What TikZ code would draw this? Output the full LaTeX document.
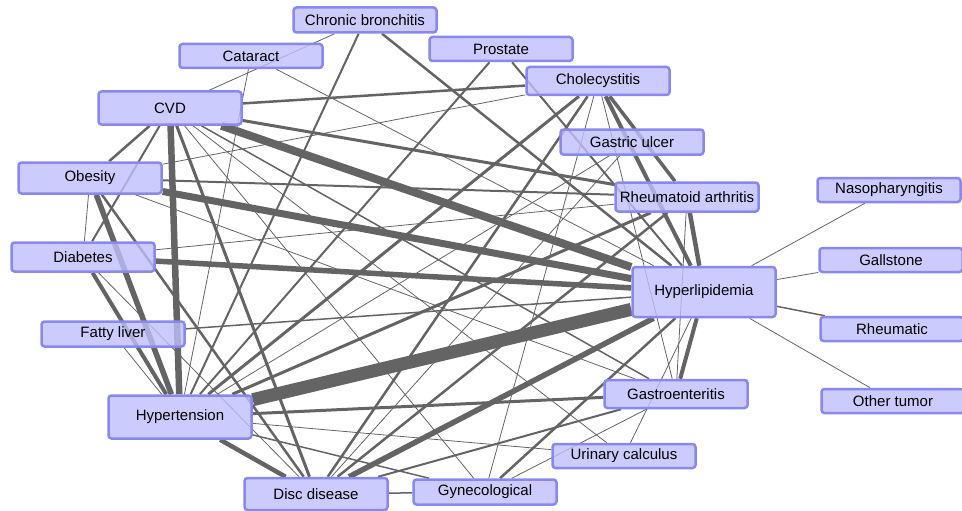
\documentclass[tikz,border=0pt]{standalone}
\usepackage{fontspec}
\setmainfont{Liberation Sans}
\usetikzlibrary{backgrounds}
\definecolor{nodefill}{RGB}{190,190,252}
\definecolor{nodeline}{RGB}{136,136,240}
\definecolor{edgecol}{RGB}{100,100,100}
\begin{document}
\begin{tikzpicture}[x=1pt,y=-1pt,
  dnode/.style={draw=nodeline, line width=2.5pt, fill=nodefill, fill opacity=0.8, text opacity=1, draw opacity=1,
    rounded corners=3pt, minimum width=143pt, inner sep=0pt, font=\fontsize{15}{18}\selectfont},
  lk/.style={draw=edgecol, line width=#1},
  lk/.default=0.8pt
]
\useasboundingbox (0,0) rectangle (962,511);
\node[dnode, minimum height=25pt] (chr) at (365,20) {Chronic bronchitis};
\node[dnode, minimum height=24pt] (cat) at (251,56) {Cataract};
\node[dnode, minimum height=24pt] (pro) at (501,49) {Prostate};
\node[dnode, minimum height=28pt] (cho) at (598,81) {Cholecystitis};
\node[dnode, minimum height=33pt] (cvd) at (170,108) {CVD};
\node[dnode, minimum height=25pt] (gul) at (632,142) {Gastric ulcer};
\node[dnode, minimum height=31pt] (obe) at (90,178) {Obesity};
\node[dnode, minimum height=29pt] (rha) at (687,197) {Rheumatoid arthritis};
\node[dnode, minimum height=24pt] (nas) at (889,190) {Nasopharyngitis};
\node[dnode, minimum height=29pt] (dia) at (83,257) {Diabetes};
\node[dnode, minimum height=24pt] (gal) at (891,260) {Gallstone};
\node[dnode, minimum height=50pt] (hyl) at (704,292) {Hyperlipidemia};
\node[dnode, minimum height=24pt] (rhe) at (892,329) {Rheumatic};
\node[dnode, minimum height=25pt] (fat) at (113,334) {Fatty liver};
\node[dnode, minimum height=24pt] (oth) at (893,401) {Other tumor};
\node[dnode, minimum height=28pt] (gas) at (676,394) {Gastroenteritis};
\node[dnode, minimum height=43pt] (hyt) at (180,417) {Hypertension};
\node[dnode, minimum height=24pt] (uri) at (624,456) {Urinary calculus};
\node[dnode, minimum height=32pt] (dis) at (316,494) {Disc disease};
\node[dnode, minimum height=25pt] (gyn) at (485,492) {Gynecological};
\begin{scope}[on background layer]
\draw[lk=13pt] (hyt) -- (hyl);
\draw[lk=8pt] (cvd) -- (hyl);
\draw[lk=7pt] (obe) -- (hyl);
\draw[lk=6.5pt] (cvd) -- (hyt);
\draw[lk=5.5pt] (dia) -- (hyl);
\draw[lk=5.5pt] (obe) -- (hyt);
\draw[lk=5.5pt] (dis) -- (hyl);
\draw[lk=4.5pt] (hyt) -- (dis);
\draw[lk=4pt] (cho) -- (hyl);
\draw[lk=4.5pt] (rha) -- (hyl);
\draw[lk=4pt] (gas) -- (hyl);
\draw[lk=4pt] (dia) -- (hyt);
\draw[lk=3.5pt] (cho) -- (rha);
\draw[lk=3pt] (cvd) -- (dis);
\draw[lk=3pt] (cvd) -- (rha);
\draw[lk=3pt] (hyt) -- (gas);
\draw[lk=3pt] (hyt) -- (cho);
\draw[lk=3pt] (hyt) -- (rha);
\draw[lk=2.5pt] (dis) -- (cho);
\draw[lk=2.5pt] (dis) -- (rha);
\draw[lk=2.5pt] (cvd) -- (cho);
\draw[lk=2.5pt] (obe) -- (dis);
\draw[lk=2.5pt] (chr) -- (hyl);
\draw[lk=2pt] (chr) -- (hyt);
\draw[lk=2pt] (pro) -- (hyt);
\draw[lk=2pt] (pro) -- (hyl);
\draw[lk=2pt] (obe) -- (rha);
\draw[lk=2.5pt] (cvd) -- (obe);
\draw[lk=2pt] (cvd) -- (dia);
\draw[lk=2pt] (dis) -- (gas);
\draw[lk=2.5pt] (gyn) -- (hyl);
\draw[lk=1.5pt] (hyt) -- (gyn);
\draw[lk=1.5pt] (dis) -- (gyn);
\draw[lk=1.5pt] (fat) -- (hyl);
\draw[lk=1.5pt] (rhe) -- (hyl);
\draw[lk=1.5pt] (cvd) -- (gas);
\draw[lk] (chr) -- (cvd);
\draw[lk] (cat) -- (hyt);
\draw[lk] (cat) -- (hyl);
\draw[lk] (obe) -- (dia);
\draw[lk] (obe) -- (cho);
\draw[lk] (obe) -- (gas);
\draw[lk] (dia) -- (rha);
\draw[lk] (fat) -- (hyt);
\draw[lk] (cho) -- (gas);
\draw[lk] (rha) -- (gas);
\draw[lk] (gyn) -- (cho);
\draw[lk] (uri) -- (hyl);
\draw[lk] (uri) -- (hyt);
\draw[lk] (cvd) -- (uri);
\draw[lk] (gul) -- (hyt);
\draw[lk] (gul) -- (dis);
\draw[lk] (nas) -- (hyl);
\draw[lk] (gal) -- (hyl);
\draw[lk] (oth) -- (hyl);
\draw[lk] (dia) -- (dis);
\draw[lk] (cvd) -- (gyn);
\draw[lk] (gyn) -- (gas);
\end{scope}
\end{tikzpicture}
\end{document}
